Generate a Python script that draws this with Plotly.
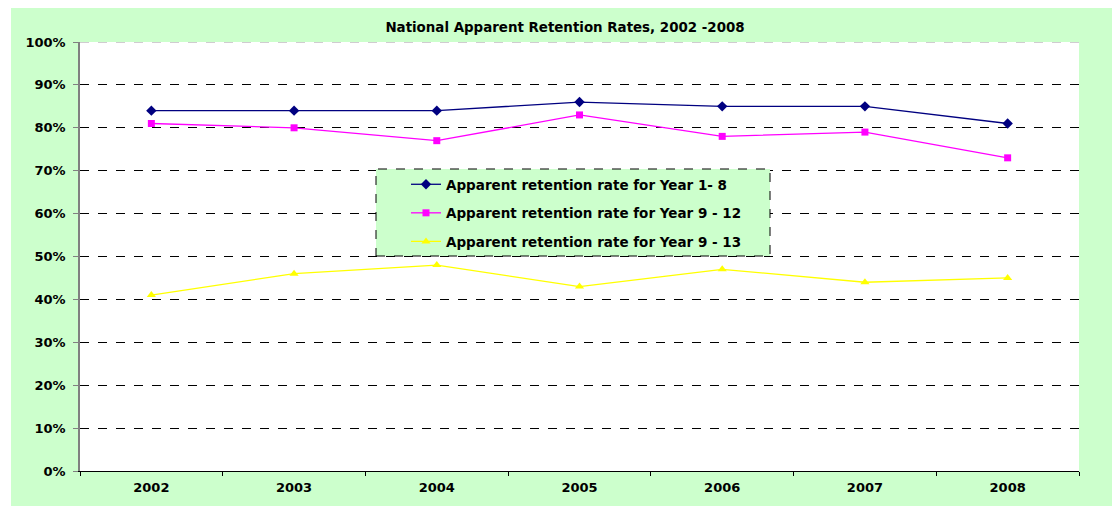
import plotly.graph_objects as go

years = ["2002", "2003", "2004", "2005", "2006", "2007", "2008"]
year_1_8 = [84, 84, 84, 86, 85, 85, 81]
year_9_12 = [81, 80, 77, 83, 78, 79, 73]
year_9_13 = [41, 46, 48, 43, 47, 44, 45]
y_ticks = [0, 10, 20, 30, 40, 50, 60, 70, 80, 90, 100]
y_tick_labels = [f"{v}%" for v in y_ticks]
grid_ticks = [10, 20, 30, 40, 50, 60, 70, 80, 90]
y_max = 100

W, H = 1112, 506
PL, PR, PT, PB = 80, 1079, 42, 471  # plot area in page pixels
pw, ph = PR - PL, PB - PT
L, T, R, B = PL, PT, W - PR, H - PB

def px_x(x):
    return (x - PL) / pw

def px_y(y):
    return (PB - y) / ph

FONT = "DejaVu Sans, Verdana, sans-serif"
GREEN = "#CCFFCC"

fig = go.Figure()
fig.add_trace(go.Scatter(
    x=years, y=year_1_8, mode="lines+markers", name="<b>Apparent retention rate for Year 1- 8</b>",
    line=dict(color="#000080", width=1.3), marker=dict(symbol="diamond", size=8, color="#000080"),
    legendgroup="a"))
fig.add_trace(go.Scatter(
    x=years, y=year_9_12, mode="lines+markers", name="<b>Apparent retention rate for Year 9 - 12</b>",
    line=dict(color="#FF00FF", width=1.3), marker=dict(symbol="square", size=7, color="#FF00FF"),
    legendgroup="b"))
fig.add_trace(go.Scatter(
    x=years, y=year_9_13, mode="lines+markers", name="<b>Apparent retention rate for Year 9 - 13</b>",
    line=dict(color="#FFFF00", width=1.3), marker=dict(symbol="triangle-up", size=8, color="#FFFF00"),
    legendgroup="c"))

shapes = [
    dict(type="rect", xref="paper", yref="paper", layer="below",
         x0=px_x(11), x1=px_x(1130), y0=px_y(530), y1=px_y(8),
         fillcolor=GREEN, line=dict(width=0)),
    dict(type="rect", xref="paper", yref="paper", layer="below",
         x0=0, x1=1, y0=0, y1=1, fillcolor="white", line=dict(width=0)),
    dict(type="line", xref="paper", yref="y", layer="above",
         x0=0, x1=1, y0=y_max, y1=y_max,
         line=dict(color="#D0CCD0", width=2, dash="dash")),
    dict(type="rect", xref="paper", yref="paper", layer="above",
         x0=px_x(376), x1=px_x(770), y0=px_y(256), y1=px_y(169),
         fillcolor=GREEN, line=dict(color="black", width=1, dash="dash")),
]

fig.update_layout(
    width=W, height=H,
    margin=dict(l=L, r=R, t=T, b=B, autoexpand=False),
    paper_bgcolor="white", plot_bgcolor="rgba(0,0,0,0)",
    font=dict(family=FONT, color="black", size=12),
    title=dict(text="<b>National Apparent Retention Rates, 2002 -2008</b>",
               x=565 / W, xanchor="center", y=1 - 27 / H, yanchor="middle",
               font=dict(size=13.4, family=FONT)),
    showlegend=True,
    legend=dict(x=px_x(406), y=px_y(169), xanchor="left", yanchor="top",
                bgcolor="rgba(0,0,0,0)", borderwidth=0,
                font=dict(size=13.5, family=FONT), tracegroupgap=8,
                itemwidth=30),
    shapes=shapes,
    xaxis=dict(type="category", tickson="boundaries", ticks="outside", ticklen=4,
               tickcolor="black", showline=True, linecolor="black", linewidth=1,
               showgrid=False, zeroline=False, range=[-0.5, 6.5],
               tickfont=dict(size=13, family=FONT), ticklabelstandoff=4,
               tickprefix="<b>", ticksuffix="</b>"),
    yaxis=dict(range=[0, y_max], tickvals=y_ticks,
               ticktext=[f"<b>{t}</b>" for t in y_tick_labels],
               ticks="outside", ticklen=5, tickcolor="#808080",
               showline=True, linecolor="#808080", linewidth=1.5,
               showgrid=False, zeroline=False, ticklabelstandoff=5,
               tickfont=dict(size=13, family=FONT),
               minor=dict(tickvals=grid_ticks, ticks="", showgrid=True,
                          gridcolor="black", gridwidth=1, griddash="dash")),
)

fig.write_html(
    "out.html",
    config={"displayModeBar": False},
    post_script="document.body.style.margin='0';document.body.style.overflow='hidden';",
)
